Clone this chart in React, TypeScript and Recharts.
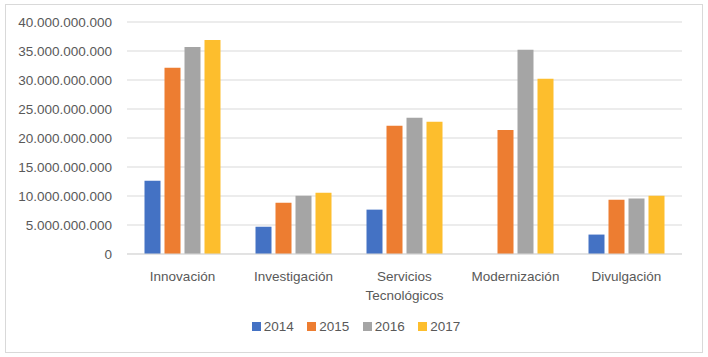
import React from "react";
import { BarChart, Bar, XAxis, YAxis, CartesianGrid, Legend } from "recharts";

const categories = ["Innovación", "Investigación", "Servicios Tecnológicos", "Modernización", "Divulgación"];
const v2014 = [12.65e9, 4.7e9, 7.65e9, null, 3.35e9];
const v2015 = [32.1e9, 8.85e9, 22.1e9, 21.4e9, 9.35e9];
const v2016 = [35.7e9, 10.05e9, 23.5e9, 35.2e9, 9.55e9];
const v2017 = [36.9e9, 10.55e9, 22.8e9, 30.2e9, 10.05e9];
const yTicks = [0, 5e9, 10e9, 15e9, 20e9, 25e9, 30e9, 35e9, 40e9];
const seriesNames = ["2014", "2015", "2016", "2017"];
const seriesColors = ["#4472C4", "#ED7D31", "#A5A5A5", "#FDBE2D"];

const data = categories.map((c, i) => ({
  name: c,
  "2014": v2014[i],
  "2015": v2015[i],
  "2016": v2016[i],
  "2017": v2017[i],
}));

const FONT = "'Liberation Sans', Arial, sans-serif";
const TEXT = "#595959";

const fmt = (v: number) => {
  if (v === 0) return "0";
  return Math.round(v).toString().replace(/\B(?=(\d{3})+(?!\d))/g, ".");
};

const CatTick = (props: any) => {
  const { x, y, payload } = props;
  const name: string = payload.value;
  const lines = name.length > 15 ? name.split(" ") : [name];
  return (
    <text x={x} y={y} textAnchor="middle" fill={TEXT} fontFamily={FONT} fontSize={13.5}>
      {lines.map((l, i) => (
        <tspan key={i} x={x} dy={i === 0 ? 27 : 18.5}>
          {l}
        </tspan>
      ))}
    </text>
  );
};

const LegendContent = () => (
  <div
    style={{
      display: "flex",
      justifyContent: "center",
      alignItems: "center",
      height: 20,
      fontFamily: FONT,
      fontSize: 13.5,
      color: TEXT,
    }}
  >
    {seriesNames.map((n, i) => (
      <div key={n} style={{ display: "flex", alignItems: "center", marginRight: i < seriesNames.length - 1 ? 13.5 : 0 }}>
        <div style={{ width: 9, height: 9, background: seriesColors[i], marginRight: 3 }} />
        <span>{n}</span>
      </div>
    ))}
  </div>
);

export default function App() {
  return (
    <div style={{ position: "absolute", left: 0, top: 0, width: 708, height: 357, background: "#fff" }}>
      <div
        style={{
          position: "absolute",
          left: 5,
          top: 4,
          width: 696,
          height: 347,
          border: "1px solid #d9d9d9",
        }}
      />
      <div style={{ position: "absolute", left: 0, top: 0 }}>
        <BarChart
          width={708}
          height={357}
          data={data}
          margin={{ top: 22, right: 26, left: 0, bottom: 21 }}
          barCategoryGap={17.5}
          barGap={4}
        >
          <CartesianGrid vertical={false} stroke="#d9d9d9" strokeWidth={1} />
          <XAxis
            dataKey="name"
            height={62}
            tickLine={false}
            tickSize={0}
            tickMargin={0}
            axisLine={{ stroke: "#d9d9d9" }}
            tick={<CatTick />}
            interval={0}
          />
          <YAxis
            width={127}
            domain={[0, 40e9]}
            ticks={yTicks}
            tickFormatter={fmt}
            axisLine={false}
            tickLine={false}
            tickSize={0}
            tickMargin={15}
            tick={{ fill: TEXT, fontFamily: FONT, fontSize: 13.5 }}
          />
          <Legend
            verticalAlign="bottom"
            content={<LegendContent />}
            wrapperStyle={{ left: 0, width: 712 }}
          />
          {seriesNames.map((n, i) => (
            <Bar key={n} dataKey={n} fill={seriesColors[i]} isAnimationActive={false} />
          ))}
        </BarChart>
      </div>
    </div>
  );
}
